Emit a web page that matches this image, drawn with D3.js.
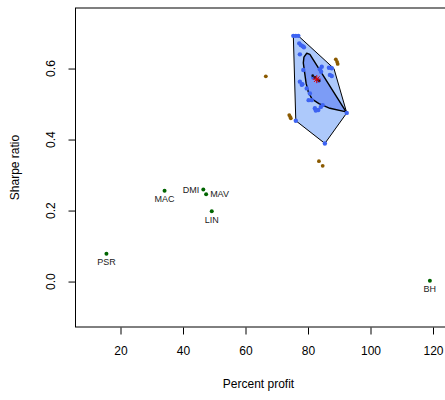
<!DOCTYPE html>
<html>
<head>
<meta charset="utf-8">
<script src="https://cdn.jsdelivr.net/npm/d3@7"></script>
<style>
  body { margin: 0; background: #fff; }
  text { font-family: "Liberation Sans", Arial, sans-serif; }
</style>
</head>
<body>
<figure id="scatter" style="margin:0"></figure>
<script>
// strategies (green, labelled)
const stratNames = ["PSR", "MAC", "DMI", "MAV", "LIN", "BH"];
const stratProfit = [15.5, 34.1, 46.5, 47.4, 49.2, 119.0];
const stratSharpe = [0.078, 0.256, 0.259, 0.246, 0.198, 0.002];
const stratLabelPos = ["below", "below", "left", "right", "below", "below"];

// bootstrap cloud (blue)
const cloudProfit = [75.3, 76.1, 76.9, 77.2, 77.7, 78.3, 78.7, 77.4, 78.5, 84.4, 87.6, 87.0, 87.6,
  81.7, 83.3, 77.4, 78.0, 79.6, 80.6, 81.2, 82.2, 83.3, 84.1, 84.7, 76.1, 85.4, 92.4,
  83.8, 84.2, 86.7, 78.2, 80.2, 82.5];
const cloudSharpe = [0.692, 0.692, 0.692, 0.671, 0.666, 0.663, 0.660, 0.640, 0.596, 0.605, 0.601, 0.582, 0.579,
  0.575, 0.566, 0.563, 0.554, 0.544, 0.530, 0.511, 0.488, 0.483, 0.492, 0.497, 0.453, 0.389, 0.475,
  0.598, 0.591, 0.602, 0.556, 0.511, 0.482];

// outliers (brown)
const outProfit = [66.5, 74.0, 74.3, 74.5, 88.9, 89.3, 89.5, 83.5, 84.7];
const outSharpe = [0.578, 0.469, 0.464, 0.460, 0.626, 0.619, 0.613, 0.339, 0.326];

// hull (loop) and bag
const hullProfit = [75.3, 76.9, 88.3, 92.4, 85.4, 76.1];
const hullSharpe = [0.692, 0.692, 0.600, 0.475, 0.389, 0.453];
const bagProfit = [79.6, 78.7, 78.5, 78.8, 79.4, 80.1, 81.3, 83.5, 87.0, 92.2, 80.6];
const bagSharpe = [0.643, 0.632, 0.616, 0.596, 0.558, 0.534, 0.514, 0.501, 0.488, 0.478, 0.640];

// centre
const centerProfit = 82.8;
const centerSharpe = 0.570;
const darkProfit = [81.5, 82.2, 83.0, 83.6];
const darkSharpe = [0.580, 0.575, 0.569, 0.565];

const xTicks = [20, 40, 60, 80, 100, 120];
const yTicks = [0.0, 0.2, 0.4, 0.6];

const width = 445, height = 400;
const margin = { left: 75.5, top: 8, right: 0, bottom: 73 };

const svg = d3.select("figure#scatter")
  .append("svg")
  .attr("width", width)
  .attr("height", height);

const x = d3.scaleLinear().domain([5.6, 124]).range([margin.left, 120.5 + 104 * 3.125]);
const y = d3.scaleLinear().domain([-0.128, 0.7705]).range([height - margin.bottom, margin.top]);

// hull + bag
const hullPts = hullProfit.map((d, i) => [x(d), y(hullSharpe[i])]);
svg.append("path")
  .attr("d", d3.line().curve(d3.curveLinearClosed)(hullPts))
  .attr("fill", "#adc9fb")
  .attr("stroke", "#000")
  .attr("stroke-width", 1);

const bagPts = bagProfit.map((d, i) => [x(d), y(bagSharpe[i])]);
svg.append("path")
  .attr("d", d3.line().curve(d3.curveLinearClosed)(bagPts))
  .attr("fill", "#7c9cf6")
  .attr("stroke", "#000")
  .attr("stroke-width", 1.4)
  .attr("stroke-linejoin", "round");

// points
svg.selectAll("circle.cloud")
  .data(cloudProfit)
  .enter()
  .append("circle")
  .attr("class", "cloud")
  .attr("cx", d => x(d))
  .attr("cy", (d, i) => y(cloudSharpe[i]))
  .attr("r", 2.2)
  .attr("fill", "#3d63f2");

svg.selectAll("circle.dark")
  .data(darkProfit)
  .enter()
  .append("circle")
  .attr("class", "dark")
  .attr("cx", d => x(d))
  .attr("cy", (d, i) => y(darkSharpe[i]))
  .attr("r", 1.3)
  .attr("fill", "#111");

svg.selectAll("circle.out")
  .data(outProfit)
  .enter()
  .append("circle")
  .attr("class", "out")
  .attr("cx", d => x(d))
  .attr("cy", (d, i) => y(outSharpe[i]))
  .attr("r", 1.9)
  .attr("fill", "#8b5a00");

// centre asterisk
const cx = x(centerProfit), cy = y(centerSharpe), s = 4;
const star = svg.append("g").attr("stroke", "#e00000").attr("stroke-width", 1);
[[-s, 0, s, 0], [0, -s, 0, s], [-s * 0.7, -s * 0.7, s * 0.7, s * 0.7], [-s * 0.7, s * 0.7, s * 0.7, -s * 0.7]]
  .forEach(l => star.append("line")
    .attr("x1", cx + l[0]).attr("y1", cy + l[1])
    .attr("x2", cx + l[2]).attr("y2", cy + l[3]));

// strategies
svg.selectAll("circle.strat")
  .data(stratProfit)
  .enter()
  .append("circle")
  .attr("class", "strat")
  .attr("cx", d => x(d))
  .attr("cy", (d, i) => y(stratSharpe[i]))
  .attr("r", 2)
  .attr("fill", "#006400");

svg.selectAll("text.strat")
  .data(stratNames)
  .enter()
  .append("text")
  .attr("class", "strat")
  .attr("x", (d, i) => {
    const px = x(stratProfit[i]);
    if (stratLabelPos[i] === "left") return px - 4;
    if (stratLabelPos[i] === "right") return px + 4;
    return px;
  })
  .attr("y", (d, i) => {
    const py = y(stratSharpe[i]);
    return stratLabelPos[i] === "below" ? py + 11.5 : py + 3;
  })
  .attr("text-anchor", (d, i) => stratLabelPos[i] === "left" ? "end" : stratLabelPos[i] === "right" ? "start" : "middle")
  .attr("font-size", "9px")
  .attr("fill", "#222")
  .text(d => d);

// box
svg.append("rect")
  .attr("x", x.range()[0])
  .attr("y", margin.top)
  .attr("width", x.range()[1] - x.range()[0])
  .attr("height", y.range()[0] - margin.top)
  .attr("fill", "none")
  .attr("stroke", "#000")
  .attr("stroke-width", 1);

// axes
const xAxis = svg.append("g")
  .attr("transform", "translate(0," + (y.range()[0] + 0.5) + ")")
  .call(d3.axisBottom(x).tickValues(xTicks).tickSize(7).tickPadding(12).tickFormat(d3.format("d")));
xAxis.select(".domain").remove();
xAxis.selectAll("text").attr("font-size", "12px").attr("font-family", "Liberation Sans, Arial, sans-serif").attr("fill", "#000");

const yAxis = svg.append("g")
  .attr("transform", "translate(" + (x.range()[0]) + ",0)")
  .call(d3.axisLeft(y).tickValues(yTicks).tickSize(7).tickFormat(d3.format(".1f")));
yAxis.select(".domain").remove();
yAxis.selectAll("text")
  .attr("font-size", "12px")
  .attr("font-family", "Liberation Sans, Arial, sans-serif")
  .attr("fill", "#000")
  .attr("text-anchor", "middle")
  .attr("dy", null)
  .attr("x", 0)
  .attr("transform", d => "translate(-25," + y(d) + ") rotate(-90)")
  .attr("y", 4);
yAxis.selectAll(".tick").attr("transform", null);
yAxis.selectAll(".tick line").attr("y1", d => y(d) + 0.5).attr("y2", d => y(d) + 0.5);

// titles
svg.append("text")
  .attr("x", (x.range()[0] + x.range()[1]) / 2 - 2)
  .attr("y", 388)
  .attr("text-anchor", "middle")
  .attr("font-size", "12px")
  .text("Percent profit");

svg.append("text")
  .attr("transform", "translate(19," + ((margin.top + y.range()[0]) / 2) + ") rotate(-90)")
  .attr("text-anchor", "middle")
  .attr("font-size", "12px")
  .text("Sharpe ratio");
</script>
</body>
</html>
